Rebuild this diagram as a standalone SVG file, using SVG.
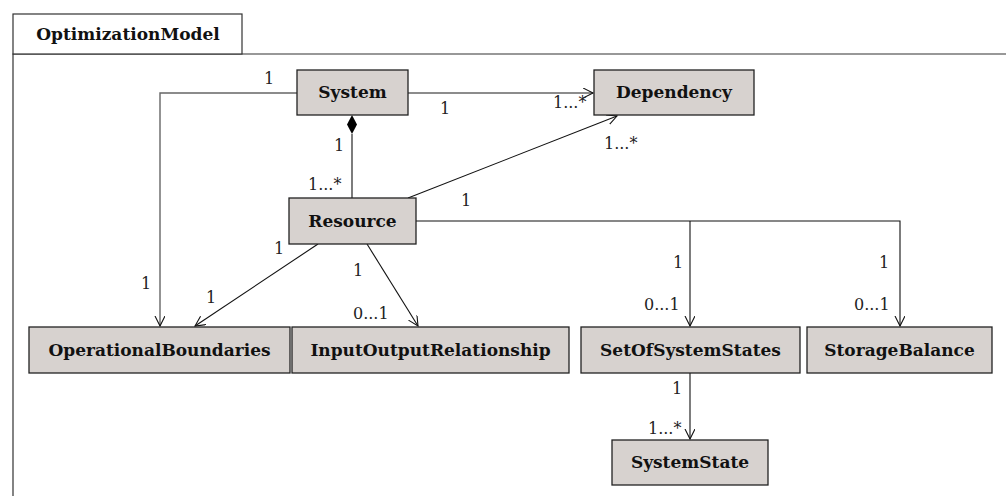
<svg xmlns="http://www.w3.org/2000/svg" width="1006" height="496" viewBox="0 0 1006 496">
<style>
.box{fill:#d7d2cf;stroke:#222;stroke-width:1.3}
.nt{font-family:'DejaVu Serif','Liberation Serif',serif;font-weight:bold;font-size:17px;text-anchor:middle;fill:#111}
.lb{font-family:'DejaVu Serif','Liberation Serif',serif;font-size:16px;fill:#222}
.c{fill:none;stroke:#111;stroke-width:1.1}
.g{fill:none;stroke:#666;stroke-width:1.4}
</style>
<defs>
<marker id="a" markerWidth="12" markerHeight="12" refX="10" refY="5" orient="auto" markerUnits="userSpaceOnUse">
<path d="M0,0 L10,5 L0,10" fill="none" stroke="#111" stroke-width="1.1"/>
</marker>
</defs>
<rect width="1006" height="496" fill="#fff"/>
<g id="frame">
<path d="M13,496 V54 H1006" fill="none" stroke="#333" stroke-width="1.2"/>
<rect x="13" y="14" width="229" height="40" fill="#fff" stroke="#333" stroke-width="1.2"/>
<text x="128" y="40" class="nt">OptimizationModel</text>
</g>
<g id="connectors">
<path class="g" d="M297,93 H160 V326" marker-end="url(#a)"/>
<path class="g" d="M408,93 H593" marker-end="url(#a)"/>
<path class="c" d="M352,134 V198"/>
<path d="M352,115 L357,124.5 L352,134 L347,124.5 Z" fill="#000"/>
<path class="c" d="M408,198 L617,116" marker-end="url(#a)"/>
<path class="c" d="M416,221 H900 V326" marker-end="url(#a)"/>
<path class="c" d="M690,221 V326" marker-end="url(#a)"/>
<path class="c" d="M318,244 L195,326" marker-end="url(#a)"/>
<path class="c" d="M367,244 L418,326" marker-end="url(#a)"/>
<path class="c" d="M690,373 V439" marker-end="url(#a)"/>
<text class="lb" x="264" y="84">1</text>
<text class="lb" x="141" y="289">1</text>
<text class="lb" x="440" y="114">1</text>
<text class="lb" x="553" y="108">1...*</text>
<text class="lb" x="334" y="151">1</text>
<text class="lb" x="308" y="190">1...*</text>
<text class="lb" x="461" y="206">1</text>
<text class="lb" x="604" y="149">1...*</text>
<text class="lb" x="274" y="254">1</text>
<text class="lb" x="206" y="303">1</text>
<text class="lb" x="353" y="276">1</text>
<text class="lb" x="353" y="319">0...1</text>
<text class="lb" x="673" y="268">1</text>
<text class="lb" x="644" y="310">0...1</text>
<text class="lb" x="879" y="268">1</text>
<text class="lb" x="854" y="310">0...1</text>
<text class="lb" x="672" y="394">1</text>
<text class="lb" x="648" y="434">1...*</text>
</g>
<g id="System"><rect class="box" x="297" y="70" width="111" height="45"/><text class="nt" x="352.5" y="98">System</text></g>
<g id="Dependency"><rect class="box" x="594" y="70" width="160" height="45"/><text class="nt" x="674" y="98">Dependency</text></g>
<g id="Resource"><rect class="box" x="289" y="198" width="127" height="46"/><text class="nt" x="352.5" y="227">Resource</text></g>
<g id="OperationalBoundaries"><rect class="box" x="29" y="327" width="261" height="46"/><text class="nt" x="159.5" y="356">OperationalBoundaries</text></g>
<g id="InputOutputRelationship"><rect class="box" x="292" y="327" width="277" height="46"/><text class="nt" x="430.5" y="356">InputOutputRelationship</text></g>
<g id="SetOfSystemStates"><rect class="box" x="581" y="327" width="219" height="46"/><text class="nt" x="690.5" y="356">SetOfSystemStates</text></g>
<g id="StorageBalance"><rect class="box" x="807" y="327" width="185" height="46"/><text class="nt" x="899.5" y="356">StorageBalance</text></g>
<g id="SystemState"><rect class="box" x="612" y="440" width="156" height="45"/><text class="nt" x="690" y="468">SystemState</text></g>
</svg>
